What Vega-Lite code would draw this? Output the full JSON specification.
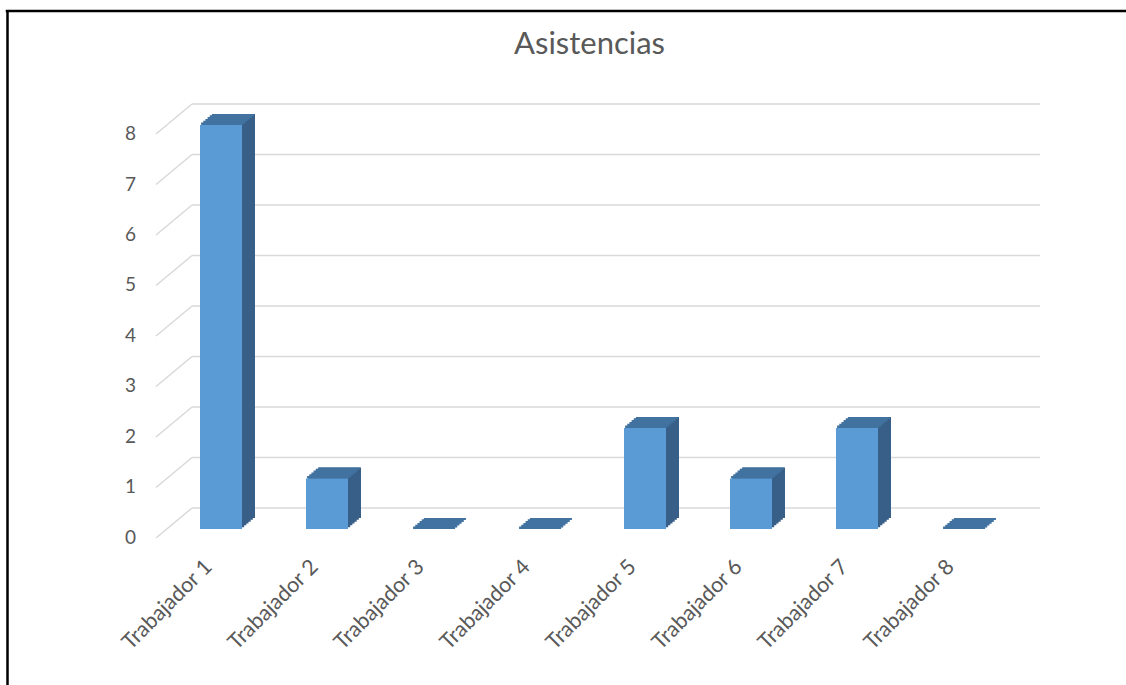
{
  "$schema": "https://vega.github.io/schema/vega-lite/v6.json",
  "width": 1119,
  "height": 674,
  "autosize": {"type": "none"},
  "padding": {"left": 7, "top": 11, "right": 0, "bottom": 0},
  "background": "white",
  "config": {"view": {"stroke": null}},
  "title": {"text": "Asistencias", "fontSize": 31, "font": "Lato", "fontWeight": "normal", "color": "#595959", "offset": -52, "dx": 23, "frame": "group", "anchor": "middle"},
  "datasets": {
    "bars": [
      {"trabajador": "Trabajador 1", "asistencias": 8},
      {"trabajador": "Trabajador 2", "asistencias": 1},
      {"trabajador": "Trabajador 3", "asistencias": 0},
      {"trabajador": "Trabajador 4", "asistencias": 0},
      {"trabajador": "Trabajador 5", "asistencias": 2},
      {"trabajador": "Trabajador 6", "asistencias": 1},
      {"trabajador": "Trabajador 7", "asistencias": 2},
      {"trabajador": "Trabajador 8", "asistencias": 0}
    ],
    "grid": [{"v": 0}, {"v": 1}, {"v": 2}, {"v": 3}, {"v": 4}, {"v": 5}, {"v": 6}, {"v": 7}, {"v": 8}]
  },
  "resolve": {"scale": {"x": "shared", "y": "shared"}},
  "layer": [
    {
      "data": {"name": "grid"},
      "mark": {"type": "rule", "color": "#D9D9D9", "strokeWidth": 1.5, "x2Offset": 53},
      "encoding": {
        "x": {"datum": "Trabajador 1", "type": "nominal", "bandPosition": 0, "scale": {"type": "band", "domain": ["Trabajador 1", "Trabajador 2", "Trabajador 3", "Trabajador 4", "Trabajador 5", "Trabajador 6", "Trabajador 7", "Trabajador 8"], "range": [185, 1033], "paddingInner": 0, "paddingOuter": 0}, "axis": null},
        "x2": {"datum": "Trabajador 8"},
        "y": {"field": "v", "type": "quantitative", "scale": {"domain": [-3.505, 9.8416], "nice": false, "zero": false}, "axis": {"grid": false, "labels": false, "ticks": false, "domain": true, "domainColor": "black", "domainWidth": 2.5, "domainCap": "square", "title": null}}
      }
    },
    {
      "data": {"values": [{"borde": "superior"}]},
      "mark": {"type": "rule", "color": "black", "strokeWidth": 2.5, "strokeCap": "square"},
      "encoding": {
        "y": {"datum": 9.8416, "type": "quantitative"}
      }
    },
    {
      "data": {"name": "grid"},
      "mark": {"type": "rule", "color": "#D9D9D9", "strokeWidth": 1.5, "xOffset": -36, "x2Offset": -53, "yOffset": 30, "y2Offset": 0},
      "encoding": {
        "x": {"datum": "Trabajador 1", "type": "nominal", "bandPosition": 0},
        "x2": {"datum": "Trabajador 1"},
        "y": {"field": "v", "type": "quantitative"},
        "y2": {"field": "v"}
      }
    },
    {
      "data": {"name": "grid"},
      "mark": {"type": "text", "align": "right", "baseline": "middle", "font": "Lato", "fontSize": 19, "color": "#595959", "xOffset": -56, "yOffset": 30},
      "encoding": {
        "x": {"datum": "Trabajador 1", "type": "nominal", "bandPosition": 0},
        "y": {"field": "v", "type": "quantitative"},
        "text": {"field": "v", "type": "quantitative"}
      }
    },
    {"data": {"name": "bars"}, "mark": {"type": "bar", "width": 42, "color": "#385F88", "xOffset": -21.833, "yOffset": 19.167, "y2Offset": 19.167}, "encoding": {"x": {"field": "trabajador", "type": "nominal"}, "y": {"field": "asistencias", "type": "quantitative"}}},
    {"data": {"name": "bars"}, "mark": {"type": "bar", "width": 42, "color": "#385F88", "xOffset": -19.667, "yOffset": 17.333, "y2Offset": 17.333}, "encoding": {"x": {"field": "trabajador", "type": "nominal"}, "y": {"field": "asistencias", "type": "quantitative"}}},
    {"data": {"name": "bars"}, "mark": {"type": "bar", "width": 42, "color": "#385F88", "xOffset": -17.5, "yOffset": 15.5, "y2Offset": 15.5}, "encoding": {"x": {"field": "trabajador", "type": "nominal"}, "y": {"field": "asistencias", "type": "quantitative"}}},
    {"data": {"name": "bars"}, "mark": {"type": "bar", "width": 42, "color": "#385F88", "xOffset": -15.333, "yOffset": 13.667, "y2Offset": 13.667}, "encoding": {"x": {"field": "trabajador", "type": "nominal"}, "y": {"field": "asistencias", "type": "quantitative"}}},
    {"data": {"name": "bars"}, "mark": {"type": "bar", "width": 42, "color": "#385F88", "xOffset": -13.167, "yOffset": 11.833, "y2Offset": 11.833}, "encoding": {"x": {"field": "trabajador", "type": "nominal"}, "y": {"field": "asistencias", "type": "quantitative"}}},
    {"data": {"name": "bars"}, "mark": {"type": "bar", "width": 42, "color": "#385F88", "xOffset": -11, "yOffset": 10, "y2Offset": 10}, "encoding": {"x": {"field": "trabajador", "type": "nominal"}, "y": {"field": "asistencias", "type": "quantitative"}}},
    {"data": {"name": "bars"}, "mark": {"type": "bar", "width": 42, "color": "#4172A0", "xOffset": -22.917, "yOffset": 18.5, "y2Offset": 21}, "encoding": {"x": {"field": "trabajador", "type": "nominal"}, "y": {"field": "asistencias", "type": "quantitative"}, "y2": {"field": "asistencias"}}},
    {"data": {"name": "bars"}, "mark": {"type": "bar", "width": 42, "color": "#4172A0", "xOffset": -20.75, "yOffset": 16.7, "y2Offset": 19.4}, "encoding": {"x": {"field": "trabajador", "type": "nominal"}, "y": {"field": "asistencias", "type": "quantitative"}, "y2": {"field": "asistencias"}}},
    {"data": {"name": "bars"}, "mark": {"type": "bar", "width": 42, "color": "#4172A0", "xOffset": -18.583, "yOffset": 14.9, "y2Offset": 17.6}, "encoding": {"x": {"field": "trabajador", "type": "nominal"}, "y": {"field": "asistencias", "type": "quantitative"}, "y2": {"field": "asistencias"}}},
    {"data": {"name": "bars"}, "mark": {"type": "bar", "width": 42, "color": "#4172A0", "xOffset": -16.417, "yOffset": 13.0, "y2Offset": 15.8}, "encoding": {"x": {"field": "trabajador", "type": "nominal"}, "y": {"field": "asistencias", "type": "quantitative"}, "y2": {"field": "asistencias"}}},
    {"data": {"name": "bars"}, "mark": {"type": "bar", "width": 42, "color": "#4172A0", "xOffset": -14.25, "yOffset": 11.2, "y2Offset": 13.9}, "encoding": {"x": {"field": "trabajador", "type": "nominal"}, "y": {"field": "asistencias", "type": "quantitative"}, "y2": {"field": "asistencias"}}},
    {"data": {"name": "bars"}, "mark": {"type": "bar", "width": 42, "color": "#4172A0", "xOffset": -12.083, "yOffset": 10, "y2Offset": 12.1}, "encoding": {"x": {"field": "trabajador", "type": "nominal"}, "y": {"field": "asistencias", "type": "quantitative"}, "y2": {"field": "asistencias"}}},
    {"data": {"name": "bars"}, "mark": {"type": "bar", "width": 42, "color": "#5B9BD5", "xOffset": -24, "yOffset": 21, "y2Offset": 21}, "encoding": {"x": {"field": "trabajador", "type": "nominal"}, "y": {"field": "asistencias", "type": "quantitative"}}},
    {
      "data": {"name": "bars"},
      "mark": {"type": "text", "angle": -45, "align": "right", "baseline": "middle", "font": "Lato", "fontSize": 21.5, "color": "#595959", "xOffset": -36, "yOffset": 56},
      "encoding": {
        "x": {"field": "trabajador", "type": "nominal"},
        "y": {"datum": 0, "type": "quantitative"},
        "text": {"field": "trabajador", "type": "nominal"}
      }
    }
  ]
}
